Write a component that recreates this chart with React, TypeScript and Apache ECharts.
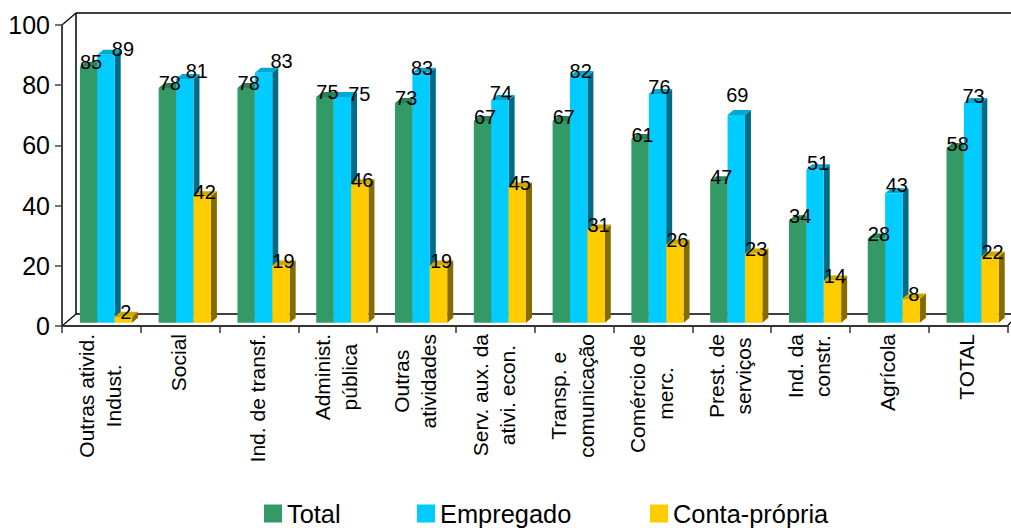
import React, { useEffect, useRef } from "react";
import * as echarts from "echarts";

const categories = [
  "Outras ativid.\nIndust.", "Social", "Ind. de transf.", "Administ.\npública", "Outras\natividades",
  "Serv. aux. da\nativi. econ.", "Transp. e\ncomunicação", "Comércio de\nmerc.", "Prest. de\nserviços",
  "Ind. da\nconstr.", "Agrícola", "TOTAL",
];
const totalValues = [85, 78, 78, 75, 73, 67, 67, 61, 47, 34, 28, 58];
const empregadoValues = [89, 81, 83, 75, 83, 74, 82, 76, 69, 51, 43, 73];
const contaPropriaValues = [2, 42, 19, 46, 19, 45, 31, 26, 23, 14, 8, 22];
const yTicks = { min: 0, max: 100, interval: 20 };

// Hand placement of the blue series' value labels, which the original moved individually.
const empregadoLabelDx = [17, 12, 18, 17, 1, 1, 2, 2, 1, 3, 3, 1];
const empregadoLabelDy = [-6, -8, -12, -3, -5, -7, -5, -7, -20, -6, -8, -7];

const W = 1011, H = 528;
const G = { left: 62, right: 1007.4, top: 25, bottom: 326 };
const BACK_X = 14, BACK_Y = 12;
const BAR_W = 17.4, DEPTH_X = 6, DEPTH_Y = 5;
const SHIFT_X = 4.6, SHIFT_Y = -3.3;

const seriesDefs = [
  { name: "Total", values: totalValues, front: "#339966", top: "#2B8257", side: "#1F5F40", slot: 0 },
  { name: "Empregado", values: empregadoValues, front: "#00CCFF", top: "#00A8D2", side: "#006B86", slot: 1 },
  { name: "Conta-própria", values: contaPropriaValues, front: "#FFCC00", top: "#D2A800", side: "#866B00", slot: 2 },
];

function barItem(def: any) {
  return (params: any, api: any) => {
    const c = api.coord([api.value(0), api.value(1)]);
    const base = api.coord([api.value(0), 0]);
    const x0 = c[0] + SHIFT_X + (def.slot - 1.5) * BAR_W;
    const x1 = x0 + BAR_W;
    const yt = c[1] + SHIFT_Y;
    const yb = base[1] + SHIFT_Y;
    return {
      type: "group",
      children: [
        { type: "polygon", shape: { points: [[x1, yt], [x1 + DEPTH_X, yt - DEPTH_Y], [x1 + DEPTH_X, yb - DEPTH_Y], [x1, yb]] }, style: { fill: def.side } },
        { type: "polygon", shape: { points: [[x0, yt], [x0 + DEPTH_X, yt - DEPTH_Y], [x1 + DEPTH_X, yt - DEPTH_Y], [x1, yt]] }, style: { fill: def.top } },
        { type: "rect", shape: { x: x0, y: yt, width: BAR_W, height: yb - yt }, style: { fill: def.front } },
      ],
    };
  };
}

function labelItem(def: any) {
  return (params: any, api: any) => {
    const i = api.value(0);
    const c = api.coord([i, api.value(1)]);
    const cx = c[0] + SHIFT_X + (def.slot - 1) * BAR_W;
    const dx = def.slot === 1 ? empregadoLabelDx[i] : 2.5;
    const dy = def.slot === 1 ? empregadoLabelDy[i] : -4.5;
    return {
      type: "text",
      style: {
        x: cx + dx, y: c[1] + SHIFT_Y + dy,
        text: String(api.value(1)),
        font: '20px "Liberation Sans", Arial, sans-serif',
        fill: "#000", align: "center", verticalAlign: "middle",
      },
    };
  };
}

const line = (x1: number, y1: number, x2: number, y2: number, lw = 1.5, color = "#000") => ({
  type: "line", z: 0, silent: true,
  shape: { x1, y1, x2, y2 }, style: { stroke: color, lineWidth: lw },
});

export default function App() {
  const ref = useRef<HTMLDivElement>(null);
  useEffect(() => {
    document.body.style.margin = "0";
    const chart = echarts.init(ref.current!, undefined, { renderer: "svg" });
    const fontFamily = '"Liberation Sans", Arial, sans-serif';
    const legendAt = [264, 417, 650];
    chart.setOption({
      animation: false,
      backgroundColor: "#fff",
      textStyle: { fontFamily },
      grid: { left: G.left, right: W - G.right, top: G.top, bottom: H - G.bottom, containLabel: false },
      legend: seriesDefs.map((d, i) => ({
        left: legendAt[i], top: 501, padding: 0, data: [d.name],
        icon: "rect", itemWidth: 18, itemHeight: 18, itemGap: 0, selectedMode: false,
        textStyle: { fontFamily, fontSize: 25.4, color: "#000", padding: [3, 0, 0, 0] },
      })),
      xAxis: {
        type: "category", data: categories, boundaryGap: true,
        axisLine: { show: true, onZero: false, lineStyle: { color: "#333", width: 2 } },
        axisTick: { show: true, length: 7, inside: false, alignWithLabel: false, lineStyle: { color: "#333", width: 1.5 } },
        splitLine: { show: false },
        axisLabel: {
          interval: 0, rotate: 90, margin: 8, color: "#000", hideOverlap: false,
          padding: [0, 0, 3, 0],
          formatter: (v: string) => v.split("\n").map((l) => `{a|${l}}`).join("\n"),
          rich: { a: { align: "center", fontFamily, fontSize: 21, lineHeight: 27.5, color: "#000" } },
        },
      },
      yAxis: {
        type: "value", ...yTicks,
        axisLine: { show: true, lineStyle: { color: "#444", width: 2 } },
        axisTick: { show: true, length: 7, lineStyle: { color: "#444", width: 1.5 } },
        splitLine: { show: false },
        axisLabel: { fontFamily, fontSize: 25, color: "#000", margin: 12 },
      },
      graphic: [
        line(G.left + BACK_X, G.top - BACK_Y, W, G.top - BACK_Y),
        line(G.left + BACK_X, G.top - BACK_Y, G.left + BACK_X, G.bottom - BACK_Y),
        line(G.left + BACK_X, G.bottom - BACK_Y, W, G.bottom - BACK_Y),
        line(G.left, G.top, G.left + BACK_X, G.top - BACK_Y, 1.2),
        line(G.left, G.bottom, G.left + BACK_X, G.bottom - BACK_Y, 1.2),
        line(G.right, G.bottom, W, G.bottom - 4, 1.2),
      ],
      series: [
        ...seriesDefs.map((d) => ({
          type: "custom", name: d.name, z: 3, silent: true, clip: false,
          coordinateSystem: "cartesian2d",
          itemStyle: { color: d.front },
          encode: { x: 0, y: 1 },
          data: d.values.map((v, i) => [i, v]),
          renderItem: barItem(d),
        })),
        ...seriesDefs.map((d) => ({
          type: "custom", name: d.name + " rótulos", z: 5, silent: true, clip: false,
          coordinateSystem: "cartesian2d",
          encode: { x: 0, y: 1 },
          data: d.values.map((v, i) => [i, v]),
          renderItem: labelItem(d),
        })),
      ],
    });
    return () => chart.dispose();
  }, []);
  return <div ref={ref} style={{ position: "absolute", left: 0, top: 0, width: W, height: H }} />;
}
